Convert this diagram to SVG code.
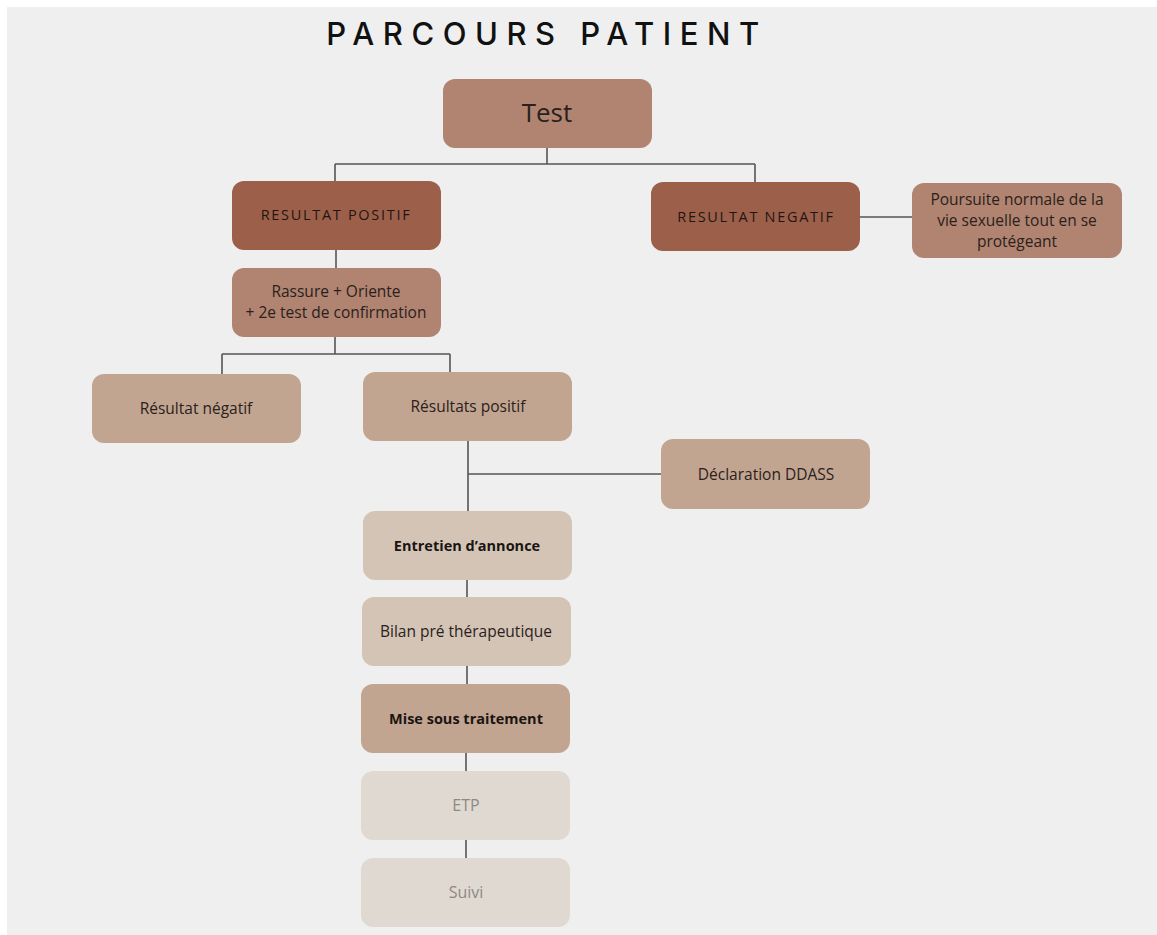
<svg xmlns="http://www.w3.org/2000/svg" width="1157" height="935" viewBox="0 0 1157 935">
<style>
.t{font-family:"Open Sans","Liberation Sans",sans-serif;text-anchor:middle;fill:#2a211d}
.caps{font-size:14.5px;letter-spacing:1.7px;font-weight:500;fill:#1f1613}
.n{font-size:15.5px}
.b{font-weight:bold;font-size:14.5px;fill:#1a1412}
.g{font-size:16px;fill:#8e8884}
.c{stroke:#555;stroke-width:1.6;fill:none}
</style>
<rect x="0" y="0" width="1157" height="935" fill="#ffffff"/>
<rect x="7" y="7" width="1150" height="928" fill="#efefef"/>
<text x="547" y="45" font-family="Inter,'Liberation Sans',sans-serif" font-size="31" font-weight="500" letter-spacing="8.5" text-anchor="middle" fill="#111">PARCOURS PATIENT</text>
<g id="connectors" class="c">
<path d="M547 148V164M335 164H755M335 164V181M755 164V182"/>
<path d="M860 217H912"/>
<path d="M336 250V268"/>
<path d="M335 337V354M222 354H450M222 354V374M450 354V372"/>
<path d="M468 441V511M468 474H661"/>
<path d="M467 580V597M467 666V684M466 753V771M466 840V858"/>
</g>
<g id="test"><rect x="443" y="79" width="209" height="69" rx="12" fill="#b08470"/><text class="t" x="547" y="122" font-size="26">Test</text></g>
<g id="res-pos"><rect x="232" y="181" width="209" height="69" rx="12" fill="#9c604a"/><text class="t caps" x="336" y="220">RESULTAT POSITIF</text></g>
<g id="res-neg"><rect x="651" y="182" width="209" height="69" rx="12" fill="#9c604a"/><text class="t caps" x="756" y="222">RESULTAT NEGATIF</text></g>
<g id="poursuite"><rect x="912" y="183" width="210" height="75" rx="12" fill="#b08470"/><text class="t n" x="1017" y="205">Poursuite normale de la</text><text class="t n" x="1017" y="226">vie sexuelle tout en se</text><text class="t n" x="1017" y="247">protégeant</text></g>
<g id="rassure"><rect x="232" y="268" width="209" height="69" rx="12" fill="#b08470"/><text class="t n" x="336" y="297">Rassure + Oriente</text><text class="t n" x="336" y="318">+ 2e test de confirmation</text></g>
<g id="resultat-negatif"><rect x="92" y="374" width="209" height="69" rx="12" fill="#c2a590"/><text class="t n" x="196" y="414">Résultat négatif</text></g>
<g id="resultats-positif"><rect x="363" y="372" width="209" height="69" rx="12" fill="#c2a590"/><text class="t n" x="468" y="412">Résultats positif</text></g>
<g id="ddass"><rect x="661" y="439" width="209" height="70" rx="12" fill="#c2a590"/><text class="t n" x="766" y="480">Déclaration DDASS</text></g>
<g id="entretien"><rect x="363" y="511" width="209" height="69" rx="12" fill="#d3c4b5"/><text class="t b" x="467" y="551">Entretien d’annonce</text></g>
<g id="bilan"><rect x="362" y="597" width="209" height="69" rx="12" fill="#d3c4b5"/><text class="t n" x="466" y="637">Bilan pré thérapeutique</text></g>
<g id="traitement"><rect x="361" y="684" width="209" height="69" rx="12" fill="#c2a590"/><text class="t b" x="466" y="724">Mise sous traitement</text></g>
<g id="etp"><rect x="361" y="771" width="209" height="69" rx="12" fill="#e0d9d2"/><text class="t g" x="466" y="811">ETP</text></g>
<g id="suivi"><rect x="361" y="858" width="209" height="69" rx="12" fill="#e0d9d2"/><text class="t g" x="466" y="898">Suivi</text></g>
</svg>
